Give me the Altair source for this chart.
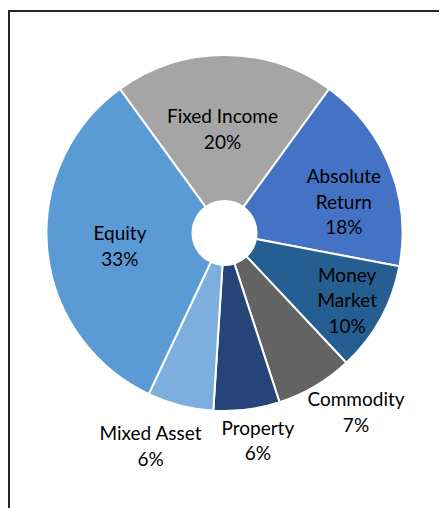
import altair as alt
import pandas as pd

categories = ["Fixed Income", "Absolute Return", "Money Market", "Commodity",
              "Property", "Mixed Asset", "Equity"]
label_names = ["Fixed Income", "Absolute\nReturn", "Money\nMarket", "Commodity",
               "Property", "Mixed Asset", "Equity"]
values = [20, 18, 10, 7, 6, 6, 33]
colors = ["#A5A5A5", "#4472C4", "#255E91", "#636363", "#264478", "#7CAFDD", "#5B9BD5"]

df = pd.DataFrame({
    "category": categories,
    "name": label_names,
    "value": values,
    "order": list(range(len(categories))),
})

TAU = 6.283185307179586
theta_scale = alt.Scale(domain=[0, 100], range=[-0.1 * TAU, 0.9 * TAU])
color_scale = alt.Scale(domain=categories, range=colors)

base = alt.Chart(df).transform_window(
    cum="sum(value)", sort=[alt.SortField("order")]
).transform_calculate(
    start="datum.cum - datum.value",
    mid="datum.cum - datum.value / 2",
    label="datum.name + '\\n' + datum.value + '%'",
)

arcs = base.mark_arc(outerRadius=178, innerRadius=32, stroke="white", strokeWidth=2).encode(
    theta=alt.Theta("start:Q", scale=theta_scale, stack=None),
    theta2="cum:Q",
    color=alt.Color("category:N", scale=color_scale, legend=None),
)

LH = 25.6
# label placement (radius, dx, dy, number of lines) per category
label_pos = {
    "Fixed Income": (105, -2, 2, 2),
    "Absolute Return": (123, 5, 15, 3),
    "Money Market": (140, 0, 1, 3),
    "Commodity": (221, 19, -10, 2),
    "Property": (210, 7, 0, 2),
    "Mixed Asset": (225, -18, -4, 2),
    "Equity": (105, 0, 4, 2),
}

texts = []
for cat, (r, dx, dy, n) in label_pos.items():
    t = base.transform_filter(alt.datum.category == cat).mark_text(
        font="Lato", fontSize=19, lineBreak="\n", lineHeight=LH,
        align="center", baseline="middle", color="#000000",
        dx=dx, dy=dy - (n - 1) * LH / 2,
    ).encode(
        theta=alt.Theta("mid:Q", scale=theta_scale, stack=None),
        radius=alt.value(r),
        text="label:N",
    )
    texts.append(t)

frame_data = alt.Data(values=[{"k": 1}])
top_rule = alt.Chart(frame_data).mark_rule(color="#262626", strokeWidth=2).encode(
    x=alt.value(-2), x2=alt.value(429), y=alt.value(3)
)
left_rule = alt.Chart(frame_data).mark_rule(color="#262626", strokeWidth=2).encode(
    x=alt.value(-1), y=alt.value(2), y2=alt.value(500)
)

chart = alt.layer(arcs, *texts, top_rule, left_rule).properties(
    width=429, height=450,
    padding={"left": 2, "top": 0, "right": 0, "bottom": 50},
    autosize=alt.AutoSizeParams(type="none"),
).configure_view(stroke=None)

chart.save("out.html", embed_options={"renderer": "svg", "actions": False})
